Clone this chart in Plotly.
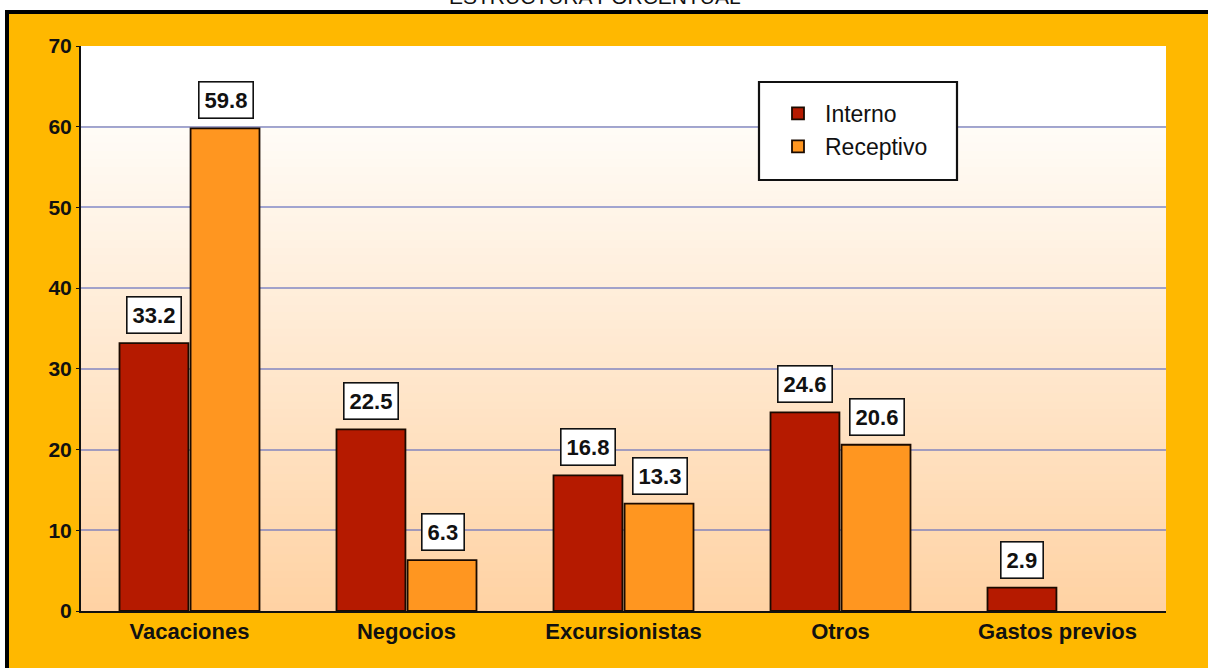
import plotly.graph_objects as go

categories = ["Vacaciones", "Negocios", "Excursionistas", "Otros", "Gastos previos"]
interno = [33.2, 22.5, 16.8, 24.6, 2.9]
receptivo = [59.8, 6.3, 13.3, 20.6, None]
series_names = ["Interno", "Receptivo"]
title_text = "ESTRUCTURA PORCENTUAL"

C_INT = "#B51A00"
C_REC = "#FF9620"
ORANGE = "#FFB800"
FONT = "Liberation Sans, Arial, sans-serif"

W, H = 1208, 668
L, R, T, B = 81, 42, 46, 57
pw, ph = W - L - R, H - T - B

def px2x(px):
    return (px - L) / pw

def py2y(py):
    return (H - B - py) / ph

fig = go.Figure()
fig.add_trace(go.Bar(name=series_names[0], x=categories, y=interno, legendgroup="a",
                     marker=dict(color=C_INT, line=dict(color="#1a0a00", width=1.8))))
fig.add_trace(go.Bar(name=series_names[1], x=categories, y=receptivo, legendgroup="b",
                     marker=dict(color=C_REC, line=dict(color="#1a0a00", width=1.8))))

shapes = []
# orange frame with black border
shapes.append(dict(type="rect", xref="paper", yref="paper",
                   x0=px2x(7), x1=px2x(1240), y0=py2y(700), y1=py2y(12),
                   fillcolor=ORANGE, line=dict(color="black", width=4), layer="below"))
# gradient background bands (overlapping to avoid seams)
top_c = (255, 252, 247)
bot_c = (255, 210, 163)
n = 60
for i in range(n):
    y0 = 60 * i / n
    y1 = min(60, 60 * (i + 2) / n)
    t = (i + 0.5) / n
    c = tuple(round(bot_c[k] + (top_c[k] - bot_c[k]) * t) for k in range(3))
    shapes.append(dict(type="rect", xref="paper", yref="y", x0=0, x1=1, y0=y0, y1=y1,
                       fillcolor="rgb(%d,%d,%d)" % c, line=dict(width=0), layer="below"))
shapes.append(dict(type="rect", xref="paper", yref="y", x0=0, x1=1, y0=60, y1=70,
                   fillcolor="white", line=dict(width=0), layer="below"))
# legend box
shapes.append(dict(type="rect", xref="paper", yref="paper",
                   x0=px2x(759), x1=px2x(957), y0=py2y(180), y1=py2y(82),
                   fillcolor="white", line=dict(color="#111", width=2.2), layer="above"))
fig.update_layout(shapes=shapes)

annotations = []
for vals, xs in ((interno, -36), (receptivo, 36)):
    for cat, v in zip(categories, vals):
        if v is None:
            continue
        annotations.append(dict(x=cat, y=v, xref="x", yref="y", text="<b>%.1f</b>" % v,
                                showarrow=False, xshift=xs, yshift=9, yanchor="bottom",
                                bgcolor="white", bordercolor="#111", borderwidth=1.6,
                                borderpad=5,
                                font=dict(family=FONT, size=22, color="#111")))
annotations.append(dict(x=px2x(595), y=py2y(10), xref="paper", yref="paper", text=title_text,
                        showarrow=False, yanchor="bottom",
                        font=dict(family=FONT, size=21, color="#111")))
fig.update_layout(annotations=annotations)

fig.update_layout(
    width=W, height=H,
    margin=dict(l=L, r=R, t=T, b=B, pad=0),
    paper_bgcolor="white", plot_bgcolor="white",
    barmode="group", bargap=0.345, bargroupgap=0.03,
    showlegend=True,
    legend=dict(x=px2x(771), y=py2y(92), xanchor="left", yanchor="top",
                bgcolor="rgba(0,0,0,0)", borderwidth=0,
                traceorder="grouped", tracegroupgap=0,
                font=dict(family=FONT, size=23, color="#111"),
                itemwidth=44),
    xaxis=dict(showline=True, linecolor="#111", linewidth=2, ticks="",
               ticklabelstandoff=0,
               tickfont=dict(family=FONT, size=22, color="#111"),
               tickprefix="<b>", ticksuffix="</b>",
               showgrid=False),
    yaxis=dict(range=[0, 70], dtick=10, showline=True, linecolor="#111", linewidth=2,
               ticks="outside", ticklen=3, tickcolor="#111", tickwidth=1,
               gridcolor="rgba(100,110,190,0.6)", gridwidth=2, zeroline=False,
               tickprefix="<b>", ticksuffix="</b>",
               tickfont=dict(family=FONT, size=21, color="#111")),
)

fig.write_html("out.html", config={"displayModeBar": False},
               post_script="document.body.style.margin='0';document.body.style.overflow='hidden';")
